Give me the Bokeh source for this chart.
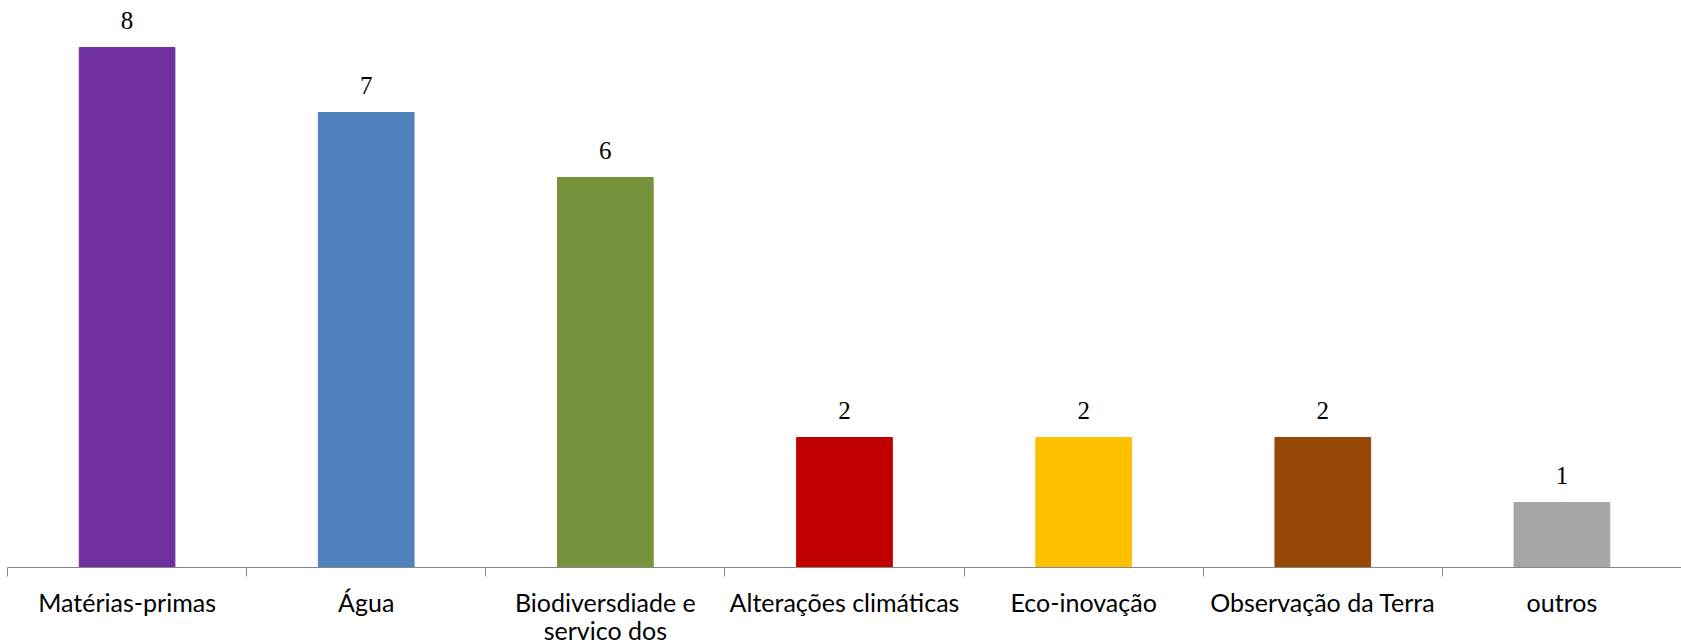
from bokeh.plotting import figure
from bokeh.models import Range1d, FixedTicker, LabelSet, ColumnDataSource
from bokeh.embed import file_html
from bokeh.resources import INLINE

categories = ["Matérias-primas", "Água", "Biodiversdiade e\nservico dos", "Alterações climáticas",
              "Eco-inovação", "Observação da Terra", "outros"]
values = [8, 7, 6, 2, 2, 2, 1]
colors = ["#7030A0", "#4F81BD", "#77933C", "#C00000", "#FFC000", "#974706", "#A5A5A5"]

FONT = "Lato"
idx = list(range(len(categories)))
src = ColumnDataSource(dict(x=idx, top=values, color=colors, label=[str(v) for v in values]))

p = figure(frame_width=1674, frame_height=559, output_backend="svg", toolbar_location=None,
           x_range=Range1d(-0.5, len(categories) - 0.5), y_range=Range1d(0, 8.6),
           min_border_left=7, min_border_right=0, min_border_top=8, min_border_bottom=0)
p.outline_line_color = None
p.xgrid.visible = False
p.ygrid.visible = False
p.yaxis.visible = False

p.vbar(x="x", top="top", width=0.4, color="color", source=src)

p.add_layout(LabelSet(x="x", y="top", text="label", source=src, y_offset=19,
                      text_align="center", text_baseline="alphabetic",
                      text_font=FONT, text_font_size="25px", text_color="black"))

ax = p.xaxis[0]
ax.ticker = FixedTicker(ticks=idx, minor_ticks=[i - 0.5 for i in range(len(categories) + 1)])
ax.major_label_overrides = {i: c for i, c in enumerate(categories)}
ax.axis_line_color = "#868686"
ax.major_tick_line_color = None
ax.major_tick_out = 9
ax.major_tick_in = 0
ax.minor_tick_line_color = "#868686"
ax.minor_tick_out = 9
ax.minor_tick_in = 0
ax.major_label_standoff = 10
ax.major_label_text_font = FONT
ax.major_label_text_font_size = "25px"
ax.major_label_text_color = "black"
ax.major_label_text_line_height = 0.95

open("out.html", "w").write(file_html(p, INLINE))
